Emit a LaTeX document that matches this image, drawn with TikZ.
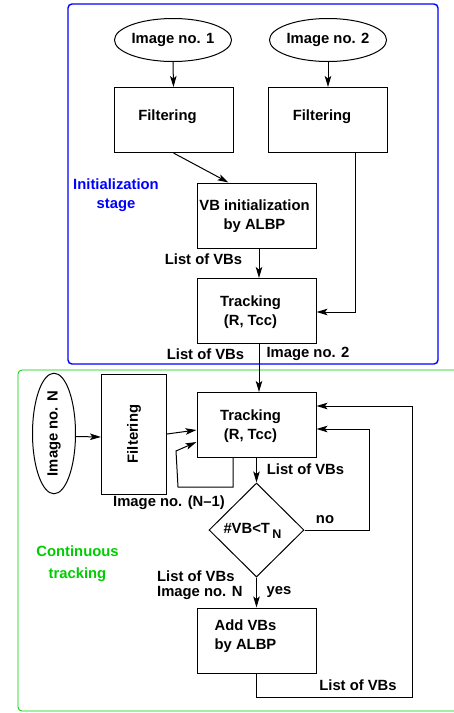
\documentclass[tikz,border=0pt]{standalone}
\usepackage{fontspec}
\setmainfont{Liberation Sans}
\usetikzlibrary{shapes.geometric,arrows.meta}
\definecolor{initblue}{RGB}{0,0,255}
\definecolor{contgreen}{RGB}{0,205,0}
\tikzset{
  box/.style={draw,line width=1pt,minimum width=119pt,minimum height=65pt,inner sep=0pt},
  oval/.style={draw,ellipse,line width=1pt,minimum width=100pt,minimum height=43pt,inner sep=0pt},
  txt/.style={inner sep=0pt,align=center},
  flow/.style={line width=1pt,-{Stealth[length=11pt,width=6.5pt,inset=2.5pt]}},
}
\begin{document}
\begin{tikzpicture}[x=1pt,y=-1pt,font=\bfseries\fontsize{14.8}{19}\selectfont]
  \useasboundingbox (0,0) rectangle (454,713);
  % stage frames
  \draw[initblue,line width=1.4pt,rounded corners=4pt] (68,4) rectangle (438,364);
  \draw[contgreen,line width=0.8pt,rounded corners=4pt] (18,370) rectangle (470,711);
  \node[txt,initblue] (initlbl) at (116,195) {Initialization\\stage};
  \node[txt,contgreen] (contlbl) at (77.5,564) {Continuous\\[3pt]tracking};

  % initialization stage
  \node[oval] (img1) at (173,40) {Image no. 1};
  \node[oval] (img2) at (328,40) {Image no. 2};
  \node[box,label={[txt,xshift=-6pt,yshift=3pt]center:Filtering}] (filt1) at (173.5,120) {};
  \node[box,label={[txt,xshift=-6pt,yshift=3pt]center:Filtering}] (filt2) at (328,120) {};
  \node[box,label={[txt,xshift=-2pt,yshift=-1pt]center:VB initialization\\by ALBP}] (init) at (256.5,215.5) {};
  \node[box,label={[txt,xshift=-6pt,yshift=-1pt]center:Tracking\\(R, Tcc)}] (track1) at (256.5,311) {};
  \draw[flow] (img1.south) -- (filt1.north);
  \draw[flow] (img2.south) -- (filt2.north);
  \draw[flow] (filt1.south) -- ([xshift=32pt]init.north west);
  \draw[flow] ([xshift=2.5pt]init.south) -- ([xshift=2.5pt]track1.north);
  \draw[flow] ([xshift=27pt]filt2.south) |- ([yshift=-1pt]track1.east);
  \node[txt] (vbs1) at (203.5,259) {List of VBs};
  \node[txt] (vbs2) at (205.5,354) {List of VBs};
  \node[txt] (im2) at (308,354) {Image no. 2};

  % continuous tracking
  \node[oval,rotate=90,minimum width=101pt] (imgN) at (54,433.5) {Image no. N};
  \node[box,rotate=90,minimum width=120pt] (filt3) at (134,434) {Filtering};
  \node[box,label={[txt,xshift=-6pt,yshift=-1.5pt]center:Tracking\\(R, Tcc)}] (track2) at (256.5,425) {};
  \node[draw,diamond,aspect=1,line width=1pt,minimum width=95pt,minimum height=94pt,inner sep=0pt,
        label={[txt,xshift=-4pt,yshift=-1pt]center:\#VB<T\,\raisebox{-0.6ex}{\fontsize{12.5}{12.5}\selectfont N}}] (test) at (256.5,530) {};
  \node[box,label={[txt,xshift=-11pt,yshift=4pt]center:Add VBs\\by ALBP}] (add) at (256.5,640.5) {};
  \draw[flow] ([xshift=2.5pt]track1.south) -- ([xshift=2.5pt]track2.north);
  \draw[flow] ([yshift=-3pt]imgN.south) -- ([yshift=-3pt]filt3.north);
  \draw[flow] (filt3.south) -- ([yshift=-5pt]track2.west);
  \draw[flow] ([xshift=-23.5pt]track2.south) -- ++(0,29) -- ++(-55,0) -- ++(-2,-36) -- ([yshift=-17pt]track2.west);
  \draw[flow] (track2.south) -- (test.north);
  \draw[flow] (test.east) -- ++(65,0) |- ([yshift=-4pt]track2.east);
  \draw[flow] (test.south) -- (add.north);
  \draw[flow] (add.south) -- ++(0,24) -- ++(156,0) |- ([yshift=19pt]track2.east);
  \node[txt] (vbs3) at (305.5,469) {List of VBs};
  \node[txt] (imprev) at (169,503) {Image no. (N--1)};
  \node[txt] (no) at (325,520) {no};
  \node[txt,anchor=west,align=left] (vbs4) at (157,585) {List of VBs\\[-4pt]Image no. N};
  \node[txt] (yes) at (279,592) {yes};
  \node[txt] (vbs5) at (358,685) {List of VBs};
\end{tikzpicture}
\end{document}
